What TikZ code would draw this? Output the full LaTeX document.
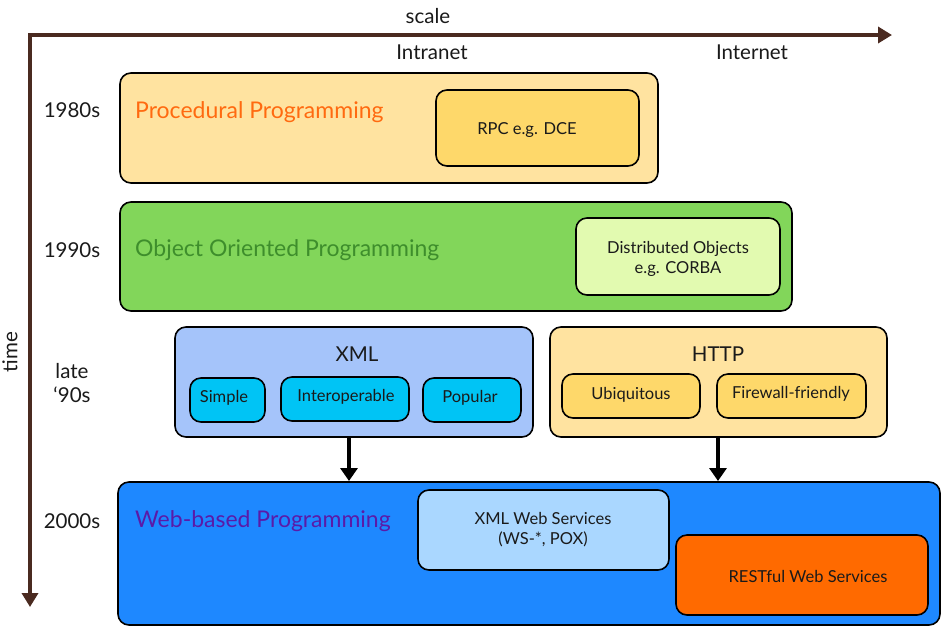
\documentclass[tikz,border=0pt]{standalone}
\usepackage{fontspec}
\setmainfont{Lato}
\usetikzlibrary{arrows.meta}
\definecolor{axisbrown}{HTML}{4A2A20}
\definecolor{tanfill}{HTML}{FFE3A0}
\definecolor{goldfill}{HTML}{FED86A}
\definecolor{greenfill}{HTML}{82D65A}
\definecolor{limefill}{HTML}{E2FAB0}
\definecolor{xmlfill}{HTML}{A5C4FA}
\definecolor{cyanfill}{HTML}{00C4F5}
\definecolor{webfill}{HTML}{1E88FF}
\definecolor{wsfill}{HTML}{AAD7FF}
\definecolor{restfill}{HTML}{FF6A00}
\definecolor{procorange}{HTML}{FF6A10}
\definecolor{oopgreen}{HTML}{3E8E2C}
\definecolor{webpurple}{HTML}{5A1AA8}
\definecolor{txt}{HTML}{1A1A1A}
\tikzset{
  box/.style={draw=black, line width=1.6pt, rounded corners=11pt, inner sep=0pt},
  lbl/.style={text=txt, font=\fontsize{20.5}{24}\selectfont, inner sep=0pt},
  title/.style={anchor=west, inner sep=0pt, font=\fontsize{23}{26}\selectfont},
  small/.style={text=txt, font=\fontsize{16.5}{20}\selectfont, inner sep=0pt, align=center},
  axisline/.style={draw=axisbrown, line width=4pt, -{Triangle[length=14pt,width=16pt]}},
  flow/.style={draw=black, line width=4pt, -{Triangle[length=13pt,width=17pt]}}
}
\begin{document}
\begin{tikzpicture}[x=1pt,y=-1pt]
\useasboundingbox[fill=white] (0,0) rectangle (945,641);
% axes
\coordinate (o) at (30,35);
\coordinate (xend) at (892,35);
\coordinate (yend) at (30,607);
\draw[axisline] (o) -- (xend);
\draw[axisline] (o) -- (yend);
\draw[axisbrown, line width=4pt] (28,35) -- (32,35);
\node[lbl] (scale) at (428,16) {scale};
\node[lbl] (intranet) at (432,52) {Intranet};
\node[lbl] (internet) at (752,52) {Internet};
\node[lbl, rotate=90] (time) at (10,352) {time};
% years
\node[lbl] (y80) at (72,110) {1980s};
\node[lbl] (y90) at (72,250) {1990s};
\node[lbl, align=center] (y95) at (72,383) {late\\‘90s};
\node[lbl] (y00) at (72,521) {2000s};
% procedural
\node[box, fill=tanfill, minimum width=538pt, minimum height=110pt] (proc) at (389,128) {};
\node[title, text=procorange] (proct) at (135,112) {Procedural Programming};
\node[box, fill=goldfill, minimum width=203pt, minimum height=76pt] (rpc) at (537.5,128) {};
\node[small] (rpct) at (527,130) {RPC e.g. DCE};
% OOP
\node[box, fill=greenfill, minimum width=672pt, minimum height=109pt] (oop) at (456,256.5) {};
\node[title, text=oopgreen] (oopt) at (135,250) {Object Oriented Programming};
\node[box, fill=limefill, minimum width=204pt, minimum height=77pt] (dist) at (678,256.5) {};
\node[small] (distt) at (678,259) {Distributed Objects\\e.g. CORBA};
% XML
\node[box, fill=xmlfill, minimum width=358pt, minimum height=110pt] (xml) at (354,382) {};
\node[lbl] (xmlt) at (357,354) {XML};
\node[box, fill=cyanfill, minimum width=75pt, minimum height=44pt] (simple) at (227.5,400) {};
\node[small] (simplet) at (224,398) {Simple};
\node[box, fill=cyanfill, minimum width=128pt, minimum height=44pt] (interop) at (345,399) {};
\node[small] (interopt) at (346,397) {Interoperable};
\node[box, fill=cyanfill, minimum width=98pt, minimum height=44pt] (popular) at (472,400) {};
\node[small] (populart) at (470,398) {Popular};
% HTTP
\node[box, fill=tanfill, minimum width=337pt, minimum height=110pt] (http) at (718.5,382) {};
\node[lbl] (httpt) at (718,354) {HTTP};
\node[box, fill=goldfill, minimum width=138pt, minimum height=44pt] (ubi) at (631,396) {};
\node[small] (ubit) at (631,395) {Ubiquitous};
\node[box, fill=goldfill, minimum width=149pt, minimum height=44pt] (fire) at (791.5,396) {};
\node[small] (firet) at (791,394) {Firewall-friendly};
% web
\node[box, fill=webfill, minimum width=822pt, minimum height=143pt] (web) at (529,553.5) {};
\node[title, text=webpurple] (webt) at (135,521) {Web-based Programming};
\node[box, fill=wsfill, minimum width=251pt, minimum height=80pt] (ws) at (543.5,530) {};
\node[small] (wst) at (543,530) {XML Web Services\\(WS-*, POX)};
\node[box, fill=restfill, minimum width=252pt, minimum height=80pt] (rest) at (802,575) {};
\node[small] (restt) at (808,576) {RESTful Web Services};
% arrows
\draw[flow] (xml.south -| 349,0) -- (349,481);
\draw[flow] (http.south -| 718,0) -- (718,481);
\end{tikzpicture}
\end{document}
